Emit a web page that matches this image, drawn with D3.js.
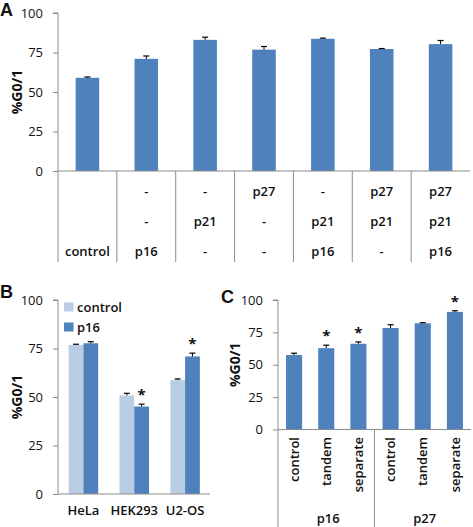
<!DOCTYPE html>
<html><head><meta charset="utf-8">
<script src="https://cdn.jsdelivr.net/npm/d3@7"></script>
<style>
body{margin:0;background:#fff;}
text{font-family:"Open Sans",sans-serif;fill:#111;}
</style></head>
<body>
<svg id="c" width="473" height="527"></svg>
<script>
// ---------- Data ----------
// Panel A
const aRowTop = ["", "-", "-", "p27", "-", "p27", "p27"];
const aRowMid = ["", "-", "p21", "-", "p21", "p21", "p21"];
const aRowBot = ["control", "p16", "-", "-", "p16", "-", "p16"];
const aValues = [59.0, 71.0, 83.0, 76.8, 83.7, 77.2, 80.3];
const aErrors = [0.5, 1.8, 1.7, 2.0, 0.4, 0.3, 2.3];
// Panel B
const bCells = ["HeLa", "HEK293", "U2-OS"];
const bSeries = ["control", "p16"];
const bControl = [76.8, 50.8, 58.7];
const bControlErr = [0.4, 1.1, 0.6];
const bP16 = [77.7, 45.1, 70.9];
const bP16Err = [0.8, 1.2, 1.7];
const bStars = [false, true, true];
// Panel C
const cLabels = ["control", "tandem", "separate", "control", "tandem", "separate"];
const cGroups = ["p16", "p27"];
const cValues = [57.5, 62.8, 66.2, 78.4, 82.0, 90.8];
const cErrors = [1.4, 2.3, 1.4, 2.5, 0.5, 0.9];
const cStars = [false, true, true, false, false, true];
const yTicks = [0, 25, 50, 75, 100];

// ---------- Styles ----------
const blue = "#4f81bd", light = "#b9cde5", axisCol = "#8c8c8c";
const svg = d3.select("#c");
const FS = 13;

function yAxis(g, y, x0) {
  const ax = d3.axisLeft(y).tickValues(yTicks).tickSize(5).tickPadding(10);
  const gg = g.append("g").attr("transform", `translate(${x0},0)`).call(ax);
  gg.select(".domain").attr("stroke", axisCol).attr("d", `M-5,${y(100)}H0V${y(0)}`);
  gg.selectAll(".tick line").attr("stroke", axisCol);
  gg.selectAll(".tick text").style("font-family", '"Open Sans",sans-serif')
    .style("font-size", FS + "px").attr("fill", "#111");
  return gg;
}
function errBar(g, cx, y0, y1) {
  g.append("line").attr("x1", cx).attr("x2", cx).attr("y1", y0).attr("y2", y1)
    .attr("stroke", "#000").attr("stroke-width", 1);
  g.append("line").attr("x1", cx - 3).attr("x2", cx + 3).attr("y1", y1).attr("y2", y1)
    .attr("stroke", "#000").attr("stroke-width", 1.2);
}
function yLabel(x, yc) {
  svg.append("text").attr("transform", `translate(${x},${yc}) rotate(-90)`)
    .attr("text-anchor", "middle").style("font-size", "14px").style("font-weight", "700")
    .text("%G0/1");
}
function panelLetter(x, y, t) {
  svg.append("text").attr("x", x).attr("y", y)
    .style("font-family", '"Liberation Sans",Arial,sans-serif')
    .style("font-size", "18px").style("font-weight", "700").text(t);
}

// ---------- Panel A ----------
{
  const g = svg.append("g");
  const x = d3.scaleBand().domain(d3.range(aValues.length)).range([58, 470]).paddingInner(0.6).paddingOuter(0.3);
  const y = d3.scaleLinear().domain([0, 100]).range([171, 13]);
  aValues.forEach((v, i) => {
    g.append("rect").attr("x", x(i)).attr("width", x.bandwidth())
      .attr("y", y(v)).attr("height", y(0) - y(v)).attr("fill", blue);
    errBar(g, x(i) + x.bandwidth() / 2, y(v), y(v + aErrors[i]));
  });
  yAxis(g, y, 58);
  const step = x.step();
  const edges = d3.range(aValues.length).map(i => x(i) - x.paddingOuter() * step + 0 );
  // horizontal axis line
  g.append("line").attr("x1", 58).attr("x2", 470).attr("y1", y(0)).attr("y2", y(0)).attr("stroke", axisCol);
  // separators
  const sepX = d3.range(aValues.length).map(i => 58 + i * (412 / aValues.length));
  sepX.forEach(sx => g.append("line").attr("x1", sx).attr("x2", sx).attr("y1", y(0)).attr("y2", 262).attr("stroke", axisCol));
  [[aRowTop, 196], [aRowMid, 226], [aRowBot, 256]].forEach(([row, by]) => {
    row.forEach((t, i) => {
      g.append("text").attr("x", x(i) + x.bandwidth() / 2).attr("y", by)
        .attr("text-anchor", "middle").style("font-size", FS + "px").style("font-weight", "600").text(t);
    });
  });
  yLabel(22, y(50));
  panelLetter(0, 16, "A");
}

// ---------- Panel B ----------
{
  const g = svg.append("g");
  const x = d3.scaleBand().domain(bCells).range([58, 210.5]).paddingInner(0.42).paddingOuter(0.21);
  const xs = d3.scaleBand().domain(bSeries).range([0, x.bandwidth()]);
  const y = d3.scaleLinear().domain([0, 100]).range([494, 300]);
  bCells.forEach((c, i) => {
    [[bControl, bControlErr, light], [bP16, bP16Err, blue]].forEach(([vals, errs, col], s) => {
      const v = vals[i];
      const bx = x(c) + xs(bSeries[s]);
      g.append("rect").attr("x", bx).attr("width", xs.bandwidth())
        .attr("y", y(v)).attr("height", y(0) - y(v)).attr("fill", col);
      errBar(g, bx + xs.bandwidth() / 2, y(v), y(v + errs[i]));
      if (s === 1 && bStars[i]) {
        g.append("text").attr("x", bx + xs.bandwidth() / 2).attr("y", y(v + errs[i]) - 4)
          .attr("text-anchor", "middle").style("font-size", "15px").style("font-weight", "700").text("*");
      }
    });
    g.append("text").attr("x", x(c) + x.bandwidth() / 2).attr("y", 515)
      .attr("text-anchor", "middle").style("font-size", FS + "px").style("font-weight", "600").text(c);
  });
  yAxis(g, y, 58);
  g.append("line").attr("x1", 58).attr("x2", 210).attr("y1", y(0)).attr("y2", y(0)).attr("stroke", axisCol);
  // legend
  const lg = g.append("g");
  bSeries.forEach((s, i) => {
    lg.append("rect").attr("x", 64).attr("y", 302.5 + i * 20).attr("width", 9.5).attr("height", 9)
      .attr("fill", i === 0 ? light : blue);
    lg.append("text").attr("x", 77).attr("y", 311.5 + i * 20)
      .style("font-size", FS + "px").style("font-weight", "600").text(s);
  });
  yLabel(22, y(50));
  panelLetter(0, 298, "B");
}

// ---------- Panel C ----------
{
  const g = svg.append("g");
  const x0 = 278, x1 = 471;
  const x = d3.scaleBand().domain(d3.range(cValues.length)).range([x0, x1]).paddingInner(0.5).paddingOuter(0.25);
  const y = d3.scaleLinear().domain([0, 100]).range([429.5, 300]);
  cValues.forEach((v, i) => {
    const cx = x(i) + x.bandwidth() / 2;
    g.append("rect").attr("x", x(i)).attr("width", x.bandwidth())
      .attr("y", y(v)).attr("height", y(0) - y(v)).attr("fill", blue);
    errBar(g, cx, y(v), y(v + cErrors[i]));
    if (cStars[i]) {
      g.append("text").attr("x", cx).attr("y", y(v + cErrors[i]) - 4)
        .attr("text-anchor", "middle").style("font-size", "15px").style("font-weight", "700").text("*");
    }
    g.append("text").attr("transform", `translate(${cx},437) rotate(-90)`)
      .attr("text-anchor", "end").attr("dy", "0.36em")
      .style("font-size", FS + "px").style("font-weight", "600").text(cLabels[i]);
  });
  yAxis(g, y, x0);
  g.append("line").attr("x1", x0).attr("x2", x1).attr("y1", y(0)).attr("y2", y(0)).attr("stroke", axisCol);
  const gw = (x1 - x0) / cGroups.length;
  cGroups.forEach((gr, k) => {
    const gx = x0 + k * gw;
    g.append("line").attr("x1", gx).attr("x2", gx).attr("y1", y(0)).attr("y2", 527).attr("stroke", axisCol);
    g.append("text").attr("x", gx + gw / 2 + 2).attr("y", 523).attr("text-anchor", "middle")
      .style("font-size", FS + "px").style("font-weight", "600").text(gr);
  });
  yLabel(240, y(50));
  panelLetter(221, 303, "C");
}
</script>
</body></html>
